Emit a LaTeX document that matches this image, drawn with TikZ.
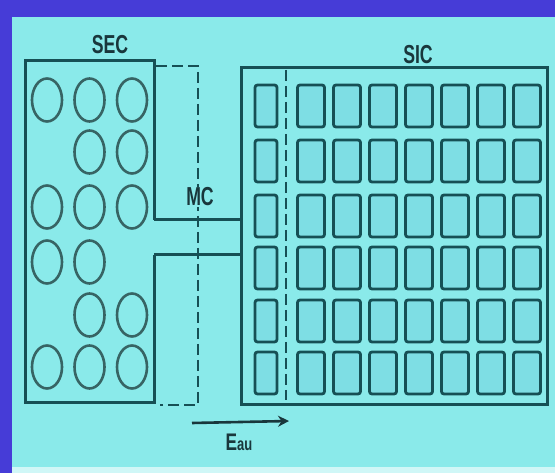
\documentclass[tikz,border=0pt]{standalone}
\usepackage{fontspec}
\setmainfont{Liberation Sans}
\usetikzlibrary{arrows.meta,shapes.geometric}
\definecolor{bgcyan}{RGB}{138,234,234}
\definecolor{frameblue}{RGB}{70,60,215}
\definecolor{ink}{RGB}{22,80,85}
\definecolor{textink}{RGB}{25,55,60}
\definecolor{cellfill}{RGB}{126,222,228}
\definecolor{ringink}{RGB}{55,100,100}
\begin{document}
\begin{tikzpicture}[x=1pt,y=-1pt,
  outline/.style={draw=ink,line width=3pt},
  dashline/.style={draw=ink,line width=2.8pt,dash pattern=on 11pt off 5pt},
  ring/.style={ellipse,draw=ringink,line width=2.6pt,minimum width=30pt,minimum height=43pt,inner sep=0pt},
  cell/.style={rectangle,rounded corners=2.5pt,draw=ink,line width=2.8pt,fill=cellfill,minimum width=27pt,minimum height=42pt,inner sep=0pt},
  narrowcell/.style={cell,minimum width=22pt},
  lbl/.style={text=textink,inner sep=0pt,font=\fontsize{26}{26}\selectfont\bfseries},
  arr/.style={draw=textink,line width=2.6pt,-{Stealth[length=11pt,width=11pt]}}]
\useasboundingbox (0,0) rectangle (555,473);
\fill[frameblue] (0,0) rectangle (555,473);
\fill[bgcyan] (12,17) rectangle (555,467);
\fill[white!60!bgcyan] (12,467) rectangle (555,473);
% labels
\node[lbl] (sec) at (110,45) {\scalebox{0.68}[1]{SEC}};
\node[lbl] (sic) at (418,55) {\scalebox{0.68}[1]{SIC}};
% SEC box and MC channel
\draw[outline] (154,220) -- (154,61) -- (25,61) -- (25,403) -- (154,403) -- (154,255);
\draw[outline] (154,220) -- (241,220);
\draw[outline] (154,255) -- (241,255);
% SIC box
\draw[outline] (241,68) rectangle (547,405);
% dashed boundaries
\draw[dashline] (156,66) -- (198,66) -- (198,405) -- (160,405);
\draw[dashline] (286,70) -- (286,400);
\node[lbl,fill=bgcyan,inner sep=1pt] (mc) at (200,197) {\scalebox{0.68}[1]{MC}};
% circles
\foreach \r/\y/\cols in {1/100/{1,2,3},2/152/{2,3},3/207/{1,2,3},4/262/{1,2},5/315/{2,3},6/367/{1,2,3}}{
  \foreach \c in \cols {
    \pgfmathsetmacro{\xx}{47+42.5*(\c-1)}
    \node[ring] (o\r\c) at (\xx,\y) {};
  }
}
% squares
\foreach \r/\y in {1/106,2/161,3/216,4/268,5/321,6/373}{
  \node[narrowcell] (s\r0) at (266,\y) {};
  \foreach \c in {1,...,7}{
    \pgfmathsetmacro{\xx}{311+36*(\c-1)}
    \node[cell] (s\r\c) at (\xx,\y) {};
  }
}
% arrow
\coordinate (a0) at (192,423);
\coordinate (a1) at (289,421);
\draw[arr] (a0) -- (a1);
\node[text=textink,inner sep=0pt,font=\fontsize{24}{24}\selectfont\bfseries] (eau) at (239,442) {\scalebox{0.72}[1]{E{\fontsize{18}{18}\selectfont au}}};
\end{tikzpicture}
\end{document}
